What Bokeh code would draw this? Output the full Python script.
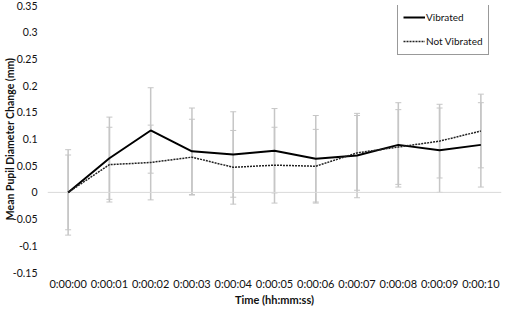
from bokeh.plotting import figure
from bokeh.models import (ColumnDataSource, FactorRange, Range1d, FixedTicker,
                          CustomJSTickFormatter, Whisker, TeeHead, Span, Legend, LegendItem)
from bokeh.embed import file_html
from bokeh.resources import INLINE

times = ["0:00:00", "0:00:01", "0:00:02", "0:00:03", "0:00:04", "0:00:05",
         "0:00:06", "0:00:07", "0:00:08", "0:00:09", "0:00:10"]
vibrated = [0.0, 0.064, 0.116, 0.077, 0.071, 0.078, 0.063, 0.069, 0.089, 0.079, 0.089]
not_vibrated = [0.0, 0.052, 0.056, 0.066, 0.047, 0.051, 0.049, 0.074, 0.085, 0.096, 0.115]
vibrated_err = [0.080, 0.077, 0.080, 0.081, 0.080, 0.079, 0.081, 0.079, 0.079, 0.079, 0.079]
not_vibrated_err = [0.070, 0.070, 0.070, 0.071, 0.069, 0.071, 0.069, 0.070, 0.070, 0.069, 0.069]
y_ticks = [-0.15, -0.1, -0.05, 0, 0.05, 0.1, 0.15, 0.2, 0.25, 0.3, 0.35]
y_title = "Mean Pupil Diameter Change (mm)"
x_title = "Time (hh:mm:ss)"

FONT = "Lato"

src = ColumnDataSource(dict(
    t=times, v=vibrated, nv=not_vibrated,
    v_up=[a + e for a, e in zip(vibrated, vibrated_err)],
    v_lo=[a - e for a, e in zip(vibrated, vibrated_err)],
    nv_up=[a + e for a, e in zip(not_vibrated, not_vibrated_err)],
    nv_lo=[a - e for a, e in zip(not_vibrated, not_vibrated_err)],
))

p = figure(width=505, height=310, output_backend="svg", toolbar_location=None,
           x_range=FactorRange(factors=times, range_padding=0),
           y_range=Range1d(y_ticks[0], y_ticks[-1]),
           min_border_top=5, min_border_right=4, min_border_left=46, min_border_bottom=38)
p.outline_line_color = None
p.background_fill_color = "white"
p.border_fill_color = "white"
p.xgrid.visible = False
p.ygrid.visible = False

ERR = "#c6c6c6"
for up, lo in (("v_up", "v_lo"), ("nv_up", "nv_lo")):
    w = Whisker(base="t", upper=up, lower=lo, source=src, line_color=ERR, line_width=1.5,
                upper_head=TeeHead(size=6, line_color=ERR, line_width=1),
                lower_head=TeeHead(size=6, line_color=ERR, line_width=1), level="underlay")
    p.add_layout(w)

p.add_layout(Span(location=0, dimension="width", line_color="#d9d9d9", line_width=1, level="underlay"))

r1 = p.line("t", "v", source=src, line_color="black", line_width=2)
r2 = p.line("t", "nv", source=src, line_color="#222222", line_width=1.5, line_dash="2 1")

# axes
for ax in (p.xaxis[0], p.yaxis[0]):
    ax.axis_line_color = None
    ax.major_tick_line_color = None
    ax.minor_tick_line_color = None
    ax.major_tick_out = 0
    ax.major_tick_in = 0
    ax.minor_tick_out = 0
    ax.minor_tick_in = 0
    ax.major_label_text_font = FONT
    ax.major_label_text_font_size = "11px"
    ax.major_label_text_color = "#111111"
    ax.axis_label_text_font = FONT
    ax.axis_label_text_font_style = "bold"
    ax.axis_label_text_color = "#111111"

p.yaxis[0].ticker = FixedTicker(ticks=y_ticks)
p.yaxis[0].formatter = CustomJSTickFormatter(code="return String(Math.round(tick*100)/100);")
p.yaxis[0].major_label_standoff = 10
p.yaxis[0].major_label_text_font_size = "10.5px"
p.yaxis[0].axis_label = y_title
p.yaxis[0].axis_label_text_font_size = "10.5px"
p.yaxis[0].axis_label_standoff = -6

p.xaxis[0].major_label_standoff = 4
p.xaxis[0].axis_label = x_title
p.xaxis[0].axis_label_text_font_size = "11px"
p.xaxis[0].axis_label_standoff = 0

legend = Legend(items=[LegendItem(label="Vibrated", renderers=[r1]),
                       LegendItem(label="Not Vibrated", renderers=[r2])],
                location=(350, 217), margin=0)
legend.border_line_color = "#333333"
legend.border_line_width = 1
legend.background_fill_color = "white"
legend.background_fill_alpha = 1
legend.label_text_font = FONT
legend.label_text_font_size = "10px"
legend.label_text_color = "#111111"
legend.glyph_width = 22
legend.glyph_height = 16
legend.label_height = 16
legend.label_standoff = 1
legend.spacing = 8
legend.padding = 5
p.add_layout(legend)

open("out.html", "w").write(file_html(p, INLINE))
